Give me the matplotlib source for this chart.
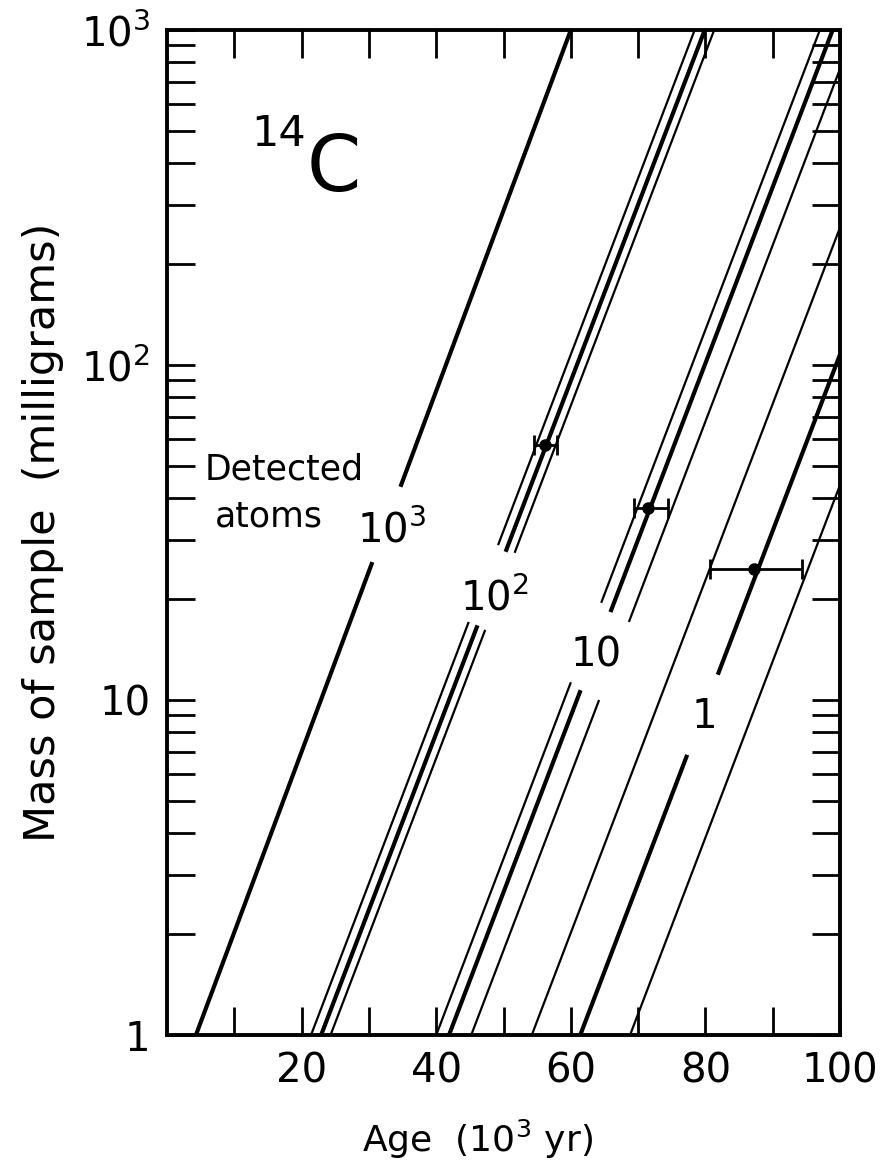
import numpy as np
import matplotlib
matplotlib.use('Agg')
import matplotlib.pyplot as plt
from matplotlib.ticker import FixedLocator, NullFormatter

# ages (10^3 yr) where each line crosses 1 mg and 1000 mg
age_1mg = [[4.3], [21.4, 22.9, 24.3], [40.0, 41.9, 45.2], [54.2, 61.4, 68.8]]
age_1000mg = [[60.0], [78.4, 79.9, 81.3], [97.0, 98.9, 102.2], [111.2, 118.4, 125.8]]
# gaps in the lines (mass range in mg, upper, lower); None = no gap
gaps = [[(43.3, 25.8)],
        [(29.0, 17.1), (27.7, 16.7), (27.5, 16.2)],
        [(19.5, 11.3), (18.3, 10.7), (17.1, 10.0)],
        [None, (11.9, 6.86), None]]
group_labels = ['10$^3$', '10$^2$', '10', '1']

# measured points with horizontal error bars
pt_age = [56.1, 71.4, 87.2]
pt_mass = [57.7, 37.4, 24.6]
pt_lo = [54.5, 69.4, 80.7]
pt_hi = [58.0, 74.5, 94.3]

fig = plt.figure(figsize=(8.95, 11.67), dpi=100)
ax = fig.add_axes([0.1866, 0.1131, 0.752, 0.8612])


def mass_to_age(m, a0, a1):
    # straight line on semilog axes between (a0, 1) and (a1, 1000)
    return a0 + (a1 - a0) * np.log10(m) / 3.0


for g in range(4):
    n = len(age_1mg[g])
    for i in range(n):
        a0, a1 = age_1mg[g][i], age_1000mg[g][i]
        if n == 1 or i == 1:
            lw = 3.0
        else:
            lw = 1.6
        gap = gaps[g][i]
        if gap is None:
            segs = [(1.0, 1000.0)]
        else:
            segs = [(1.0, gap[1]), (gap[0], 1000.0)]
        for m0, m1 in segs:
            ax.plot([mass_to_age(m0, a0, a1), mass_to_age(m1, a0, a1)], [m0, m1],
                    color='k', lw=lw, solid_capstyle='butt')

xerr = [np.array(pt_age) - np.array(pt_lo), np.array(pt_hi) - np.array(pt_age)]
ax.errorbar(pt_age, pt_mass, xerr=xerr, fmt='o', color='k', ms=8,
            elinewidth=2, capsize=7, capthick=2)

ax.set_yscale('log')
ax.set_xlim(0, 100)
ax.set_ylim(1, 1000)

# axes formatting
ax.set_xticks(np.arange(10, 101, 10))
ax.set_xticklabels(['', '20', '', '40', '', '60', '', '80', '', '100'])
ax.yaxis.set_major_locator(FixedLocator([1, 10, 100, 1000]))
ax.set_yticklabels(['1', '10', '10$^2$', '10$^3$'])
ax.yaxis.set_minor_locator(FixedLocator(
    [k * 10 ** d for d in range(3) for k in range(2, 10)]))
ax.yaxis.set_minor_formatter(NullFormatter())
ax.tick_params(which='both', direction='in', top=True, right=True,
               length=20, width=2, labelsize=29, pad=12)
for s in ax.spines.values():
    s.set_linewidth(2.8)

ax.set_xlabel('Age  (10$^3$ yr)', fontsize=26, labelpad=18)
ax.xaxis.set_label_coords(0.462, -0.082)
ax.set_ylabel('Mass of sample  (milligrams)', fontsize=31, labelpad=12)

ax.text(5.6, 48.6, 'Detected', fontsize=25, ha='left', va='center')
ax.text(7.1, 35.2, 'atoms', fontsize=25, ha='left', va='center')
ax.text(33.4, 32.0, group_labels[0], fontsize=29, ha='center', va='center')
ax.text(48.6, 20.0, group_labels[1], fontsize=29, ha='center', va='center')
ax.text(63.7, 13.6, group_labels[2], fontsize=29, ha='center', va='center')
ax.text(79.9, 8.9, group_labels[3], fontsize=29, ha='center', va='center')
ax.text(20.6, 488, '14', fontsize=31, ha='right', va='center')
ax.text(20.7, 385, 'C', fontsize=56, ha='left', va='center')

fig.savefig('out.png', dpi=100)
